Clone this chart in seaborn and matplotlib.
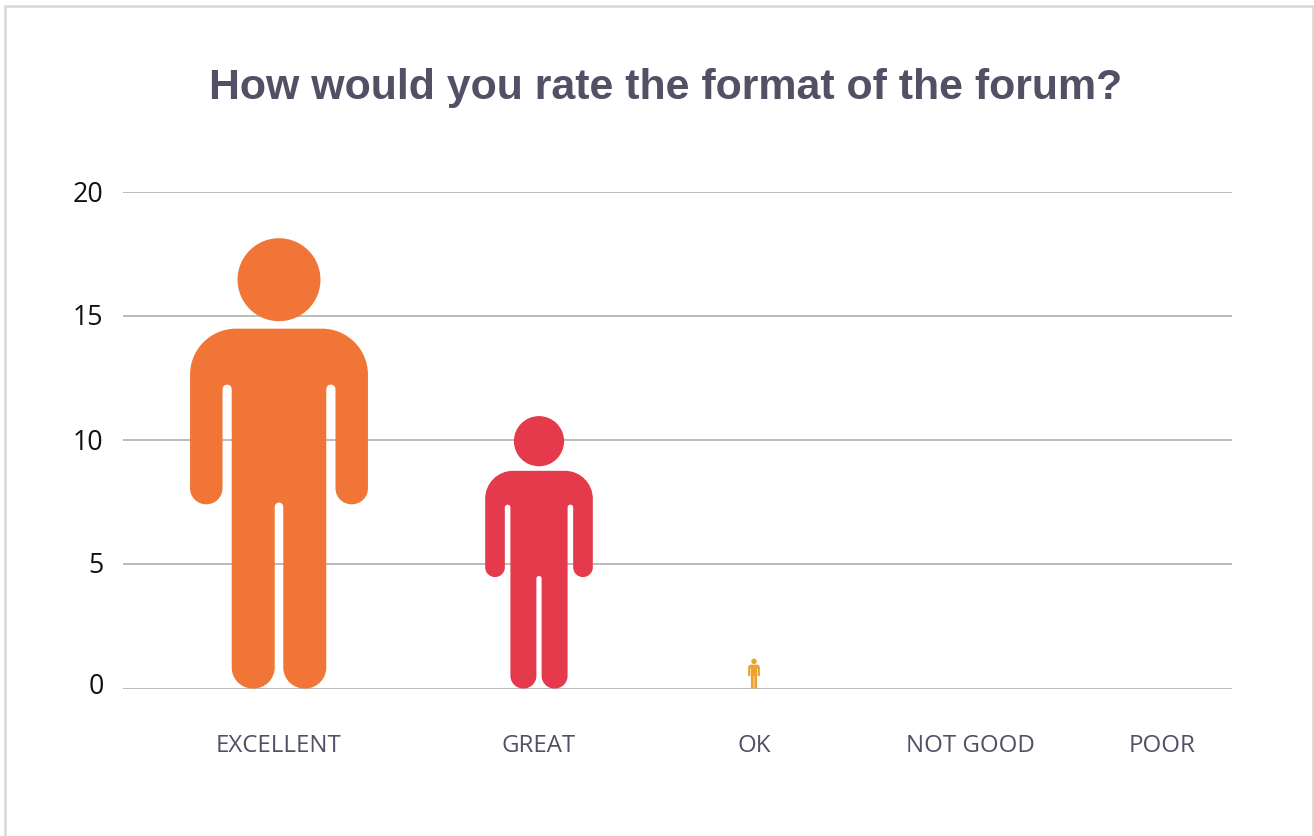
import numpy as np
import pandas as pd
import seaborn as sns
import matplotlib.pyplot as plt
from matplotlib.path import Path
from matplotlib.patches import PathPatch, Rectangle
from matplotlib.transforms import ScaledTranslation

# Data
categories = ["EXCELLENT", "GREAT", "OK", "NOT GOOD", "POOR"]
values = [18.1, 10.95, 1.2, 0, 0]
# the slots are not evenly spaced in the original
slots = [156, 416, 631, 847, 1039]
y_ticks = [0, 5, 10, 15, 20]

colors = ["#f07537", "#e53a4b", "#f0a030", "#8f5a9e", "#4a90c0"]
TEXT = "#544f65"
GRID = "#bcbcbc"
FRAME = "#dcd9d2"
W, H = 1314, 837

# Person outline, x from centre and y from the feet, 450 units tall
# each corner is (x, y, corner radius)
BODY = [(-89, 360, 46), (89, 360, 46), (89, 184.3, 16), (56.5, 184.3, 16),
        (56.5, 304, 4.5), (47.3, 304, 4.5), (47.3, 0, 21), (4.3, 0, 21),
        (4.3, 186, 4.2), (-4.3, 186, 4.2), (-4.3, 0, 21), (-47.3, 0, 21),
        (-47.3, 304, 4.5), (-56.5, 304, 4.5), (-56.5, 184.3, 16), (-89, 184.3, 16)]
HEAD = ((0, 409), 41.5)
GLYPH_H = 450.0


def rounded_outline(corners):
    k = 0.5523
    verts, codes = [], []
    n = len(corners)
    for i in range(n):
        c = np.array(corners[i][:2], float)
        r = corners[i][2]
        prev = np.array(corners[i - 1][:2], float)
        nxt = np.array(corners[(i + 1) % n][:2], float)
        d_in = (c - prev) / np.linalg.norm(c - prev)
        d_out = (nxt - c) / np.linalg.norm(nxt - c)
        start = c - r * d_in
        end = c + r * d_out
        verts.append(start)
        codes.append(Path.MOVETO if i == 0 else Path.LINETO)
        verts += [start + k * r * d_in, end - k * r * d_out, end]
        codes += [Path.CURVE4] * 3
    verts.append(verts[0])
    codes.append(Path.CLOSEPOLY)
    return Path(np.array(verts), codes)


person = Path.make_compound_path(rounded_outline(BODY), Path.circle(*HEAD))

sns.set_theme(style="whitegrid")
plt.rcParams["font.family"] = ["Open Sans", "DejaVu Sans"]

df = pd.DataFrame({"category": categories, "value": values, "slot": slots})

fig = plt.figure(figsize=(W / 100, H / 100), dpi=100, facecolor="white")
ax = fig.add_axes([123 / W, (H - 689.5) / H, 1109 / W, 497 / H])

# invisible bars give the position and height of each person
sns.barplot(data=df, x="slot", y="value", hue="category", palette=colors,
            native_scale=True, dodge=False, legend=False, saturation=1, ax=ax)

ax.set_xlim(0, 1109)
ax.set_ylim(0, 20)
px_per_unit = 497 / 20

for bar in list(ax.patches):
    h = bar.get_height()
    cx = bar.get_x() + bar.get_width() / 2
    col = bar.get_facecolor()
    bar.set_visible(False)
    if h <= 0:
        continue
    verts = person.vertices / GLYPH_H * h
    verts = np.column_stack([cx + verts[:, 0] * px_per_unit, verts[:, 1]])
    ax.add_patch(PathPatch(Path(verts, person.codes), facecolor=col,
                           edgecolor="none", zorder=3, clip_on=False))

ax.set_xticks(slots)
ax.set_xticklabels(categories, fontsize=17.3, color=TEXT)
ax.set_yticks(y_ticks)
ax.set_yticklabels([str(t) for t in y_ticks], fontsize=19.3, color="#111111")
ax.tick_params(axis="x", length=0, pad=32)
ax.tick_params(axis="y", length=0, pad=14)
ax.set_xlabel("")
ax.set_ylabel("")
ax.xaxis.grid(False)
ax.yaxis.grid(True, color=GRID, linewidth=1.44)
ax.set_axisbelow(True)
sns.despine(ax=ax, left=True, bottom=True, top=True, right=True)

# the y labels sit slightly above their lines in the original, most at the bottom
for lab, shift in zip(ax.get_yticklabels(), [5.5, 3, 2, 2, 1]):
    lab.set_transform(lab.get_transform() + ScaledTranslation(0, shift / 100, fig.dpi_scale_trans))

fig.text(665.5 / W, 1 - 88 / H, "How would you rate the format of the forum?",
         family="Liberation Sans", fontweight="bold", fontsize=30.85, color=TEXT,
         ha="center", va="center")

# card border, open at the bottom
fig.add_artist(Rectangle((5.3 / W, -0.05), (1312.6 - 5.3) / W, 1.05 - 7.3 / H,
                         transform=fig.transFigure, facecolor="none",
                         edgecolor=FRAME, linewidth=1.9))

fig.savefig("out.png", dpi=100)
